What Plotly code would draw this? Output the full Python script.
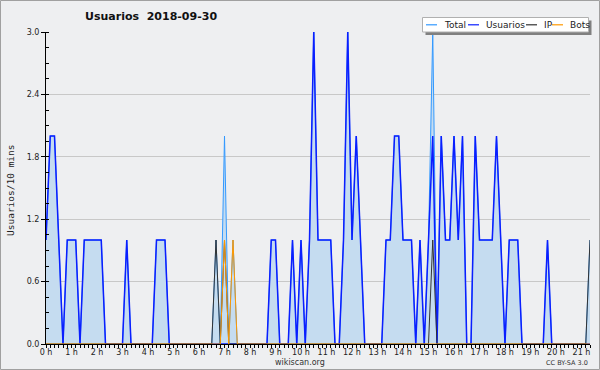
import plotly.graph_objects as go

# 10-minute slots from 00:00 to 21:20 (129 points)
usuarios = [1,2,2,1,0,1,1,1,0,1, 1,1,1,1,0,0,0,0,0,1,
            0,0,0,0,0,0,1,1,1,0, 0,0,0,0,0,0,0,0,0,0,
            0,0,0,0,0,0,0,0,0,0, 0,0,0,1,1,0,0,0,1,0,
            1,0,1,3,1,1,1,1,0,0, 1,3,1,2,1,0,0,0,0,0,
            1,1,2,2,1,1,1,0,1,0, 1,2,0,2,1,1,2,1,2,0,
            0,2,1,1,1,1,2,1,0,1, 1,1,0,0,0,0,0,0,1,0,
            0,0,0,0,0,0,0,0,0]
ip =       [0,0,0,0,0,0,0,0,0,0, 0,0,0,0,0,0,0,0,0,0,
            0,0,0,0,0,0,0,0,0,0, 0,0,0,0,0,0,0,0,0,0,
            1,0,1,0,0,0,0,0,0,0, 0,0,0,0,0,0,0,0,0,0,
            0,0,0,0,0,0,0,0,0,0, 0,0,0,0,0,0,0,0,0,0,
            0,0,0,0,0,0,0,0,0,0, 0,1,0,0,0,0,0,0,0,0,
            0,0,0,0,0,0,0,0,0,0, 0,0,0,0,0,0,0,0,0,0,
            0,0,0,0,0,0,0,0,1]
bots =     [0,0,0,0,0,0,0,0,0,0, 0,0,0,0,0,0,0,0,0,0,
            0,0,0,0,0,0,0,0,0,0, 0,0,0,0,0,0,0,0,0,0,
            0,0,1,0,1,0,0,0,0,0, 0,0,0,0,0,0,0,0,0,0,
            0,0,0,0,0,0,0,0,0,0, 0,0,0,0,0,0,0,0,0,0,
            0,0,0,0,0,0,0,0,0,0, 0,0,0,0,0,0,0,0,0,0,
            0,0,0,0,0,0,0,0,0,0, 0,0,0,0,0,0,0,0,0,0,
            0,0,0,0,0,0,0,0,0]
total =    [1,2,2,1,0,1,1,1,0,1, 1,1,1,1,0,0,0,0,0,1,
            0,0,0,0,0,0,1,1,1,0, 0,0,0,0,0,0,0,0,0,0,
            1,0,2,0,1,0,0,0,0,0, 0,0,0,1,1,0,0,0,1,0,
            1,0,1,3,1,1,1,1,0,0, 1,3,1,2,1,0,0,0,0,0,
            1,1,2,2,1,1,1,0,1,0, 1,3,0,2,1,1,2,1,2,0,
            0,2,1,1,1,1,2,1,0,1, 1,1,0,0,0,0,0,0,1,0,
            0,0,0,0,0,0,0,0,1]

hours = [i / 6 for i in range(len(usuarios))]
hour_ticks = list(range(0, 22))
hour_labels = [f"{h} h" for h in hour_ticks]
y_ticks = [0, 0.6, 1.2, 1.8, 2.4, 3.0]
y_labels = ["0.0", "0.6", "1.2", "1.8", "2.4", "3.0"]

W, H = 600, 370
L, R, T, B = 46, 10, 32, 26
PW, PH = W - L - R, H - T - B

def px(x):
    return (x - L) / PW

def py(y):
    return (H - B - y) / PH

BG = "#eeeff1"
FONT = "DejaVu Sans"

fig = go.Figure()
fig.add_trace(go.Scatter(x=hours, y=total, mode="lines", name="Total",
                         line=dict(color="#3399ff", width=1),
                         fill="tozeroy", fillcolor="#c5dcf0"))
fig.add_trace(go.Scatter(x=hours, y=usuarios, mode="lines", name="Usuarios",
                         line=dict(color="#0a1eff", width=1.5)))
fig.add_trace(go.Scatter(x=hours, y=ip, mode="lines", name="IP",
                         line=dict(color="#333333", width=1)))
fig.add_trace(go.Scatter(x=hours, y=bots, mode="lines", name="Bots",
                         line=dict(color="#ff9900", width=1)))

fig.update_layout(
    width=W, height=H, showlegend=False,
    margin=dict(l=L, r=R, t=T, b=B, autoexpand=False),
    paper_bgcolor=BG, plot_bgcolor=BG,
    font=dict(family=FONT, size=8, color="#222"),
    xaxis=dict(range=[0, hours[-1]], tickmode="array", tickvals=hour_ticks,
               ticktext=hour_labels, ticks="outside", ticklen=3, tickcolor="#000",
               showline=True, linecolor="#000", linewidth=1, showgrid=False,
               zeroline=False, tickfont=dict(size=8, color="#222"),
               automargin=False, ticklabelstandoff=-3,
               minor=dict(dtick=1/6, tick0=0, ticks="outside", ticklen=3,
                          tickcolor="#000", showgrid=False)),
    yaxis=dict(range=[0, 3], tickmode="array", tickvals=y_ticks, ticktext=y_labels,
               ticks="outside", ticklen=4, tickcolor="#000",
               showline=True, linecolor="#000", linewidth=1,
               showgrid=True, gridcolor="#c8c8c8", gridwidth=1, zeroline=False,
               tickfont=dict(size=8, color="#222"), automargin=False,
               minor=dict(dtick=0.15, tick0=0, ticks="inside", ticklen=3,
                          tickcolor="#000", showgrid=False)),
)

shapes = []
annotations = []
# outer border
shapes.append(dict(type="rect", xref="paper", yref="paper",
                   x0=px(0.5), x1=px(599.5), y0=py(0.5), y1=py(369.5),
                   line=dict(color="#a0a0a0", width=1), fillcolor="rgba(0,0,0,0)"))
# legend shadow and box
shapes.append(dict(type="rect", xref="paper", yref="paper",
                   x0=px(425.5), x1=px(591.5), y0=py(20.5), y1=py(35),
                   line=dict(width=0), fillcolor="#808080"))
shapes.append(dict(type="rect", xref="paper", yref="paper",
                   x0=px(422.5), x1=px(588.5), y0=py(17.5), y1=py(32),
                   line=dict(color="#b0b0b0", width=1), fillcolor="#ffffff"))
legend_items = [("Total", "#3399ff", 426, 442),
                ("Usuarios", "#0a1eff", 468, 484),
                ("IP", "#333333", 526, 542),
                ("Bots", "#ff9900", 552, 568)]
ly = 24.8
for name, color, lx, tx in legend_items:
    shapes.append(dict(type="line", xref="paper", yref="paper",
                       x0=px(lx), x1=px(lx + 11), y0=py(ly), y1=py(ly),
                       line=dict(color=color, width=1.2)))
    annotations.append(dict(text=name, xref="paper", yref="paper",
                            x=px(tx), y=py(ly), xanchor="left", yanchor="middle",
                            showarrow=False, font=dict(size=9, color="#222")))

annotations.append(dict(text="<b>Usuarios  2018-09-30</b>", xref="paper", yref="paper",
                        x=px(151), y=py(17), xanchor="center", yanchor="middle",
                        showarrow=False, font=dict(size=11, color="#111")))
annotations.append(dict(text="Usuarios/10 mins", xref="paper", yref="paper",
                        x=px(10), y=py(190), xanchor="center", yanchor="middle",
                        textangle=-90, showarrow=False,
                        font=dict(family="DejaVu Sans Mono", size=9.5, color="#222")))
annotations.append(dict(text="wikiscan.org", xref="paper", yref="paper",
                        x=px(300), y=py(362), xanchor="center", yanchor="middle",
                        showarrow=False, font=dict(size=8, color="#333")))
annotations.append(dict(text="CC BY-SA 3.0", xref="paper", yref="paper",
                        x=px(590), y=py(363), xanchor="right", yanchor="middle",
                        showarrow=False, font=dict(size=6.5, color="#333")))

fig.update_layout(shapes=shapes, annotations=annotations)
fig.write_html("out.html", config={"displayModeBar": False},
               post_script="document.body.style.margin='0';document.body.style.padding='0';")
